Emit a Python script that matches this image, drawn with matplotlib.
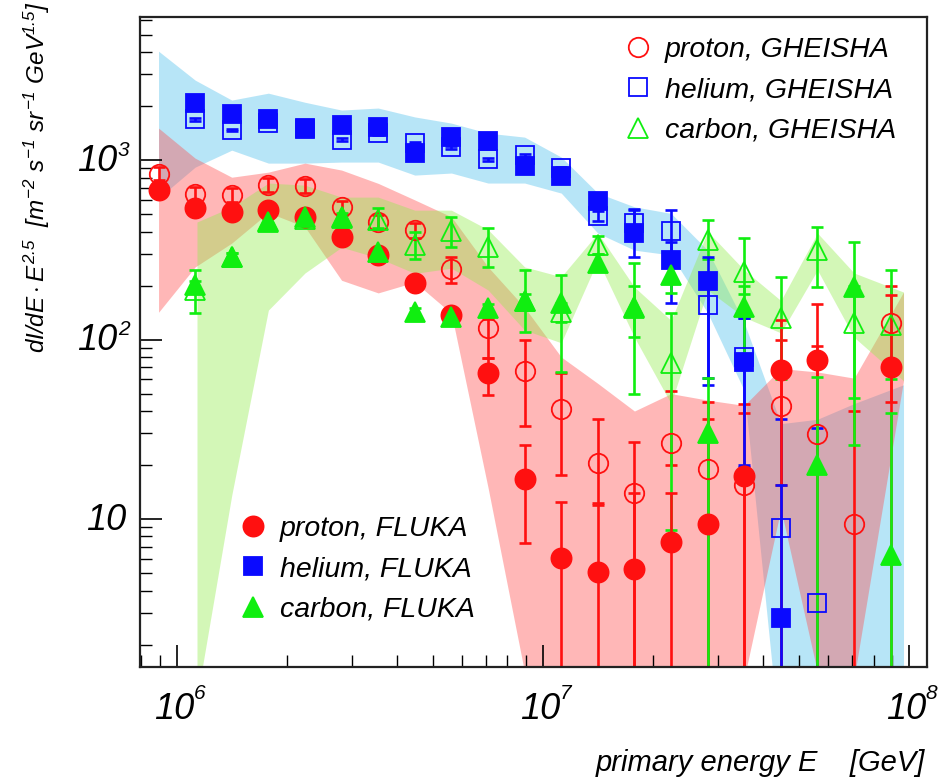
import numpy as np
import matplotlib
matplotlib.use("Agg")
import matplotlib.pyplot as plt
from matplotlib.lines import Line2D
from matplotlib.ticker import NullFormatter

plt.rcParams['font.family'] = ['Liberation Sans', 'DejaVu Sans']
plt.rcParams['font.style'] = 'italic'
plt.rcParams['mathtext.fontset'] = 'custom'
plt.rcParams['mathtext.rm'] = 'Liberation Sans:italic'
plt.rcParams['mathtext.it'] = 'Liberation Sans:italic'
plt.rcParams['mathtext.sf'] = 'Liberation Sans:italic'

# ---- data: log10(E/GeV) bin centres ----
log_e = [5.95, 6.05, 6.15, 6.25, 6.35, 6.45, 6.55, 6.65, 6.75, 6.85, 6.95,
         7.05, 7.15, 7.25, 7.35, 7.45, 7.55, 7.65, 7.75, 7.85, 7.95]
nan = np.nan

# proton, GHEISHA (open circles)
p_gh = [836, 648, 638, 725, 716, 545, 452, 407, 247, 116, 67, 41, 20.5, 14, 26.5, 19, 15.5, 42.7, 29.7, 9.4, 123]
p_gh_lo = [770, 595, 585, 665, 657, 500, 415, 370, 206, 79, 33, 17.6, 12, 1.5, 20, 1.5, 1.5, 15.5, 1.5, 1.5, 1.5]
p_gh_hi = [910, 705, 695, 790, 780, 594, 493, 445, 288, 131, 99, 65, 36, 27, 52, 45, 44, 100, 92, 40, 199]
# proton, FLUKA (filled circles)
p_fl = [681, 540, 513, 525, 480, 372, 296, 207, 137, 65, 16.7, 6.1, 5.1, 5.25, 7.5, 9.4, 17.4, 68, 77, nan, 70]
p_fl_lo = [650, 515, 490, 500, 458, 355, 282, 197, 130, 49, 7.4, 1.5, 1.5, 1.5, 1.5, 1.5, 1.5, 1.5, 1.5, nan, 45]
p_fl_hi = [712, 565, 536, 550, 502, 389, 310, 217, 144, 79, 25.8, 12.4, 12.3, 14, 14, 36, 39, 129, 158, nan, 177]

# helium, GHEISHA (open squares)
he_gh = [nan, 1690, 1470, 1600, 1500, 1300, 1410, 1245, 1180, 1010, 1066, 900, 488, 447, 403, 155, 80, 8.9, 3.4, nan, nan]
he_gh_lo = [nan, 1660, 1445, 1570, 1475, 1280, 1385, 1225, 1160, 990, 1045, 880, 460, 410, 300, 56, 20, 1.5, 1.5, nan, nan]
he_gh_hi = [nan, 1720, 1495, 1630, 1525, 1320, 1435, 1265, 1200, 1030, 1085, 920, 520, 533, 526, 212, 132, 36, 32, nan, nan]
# helium, FLUKA (filled squares)
he_fl = [nan, 2080, 1800, 1690, 1510, 1570, 1530, 1095, 1345, 1275, 925, 815, 590, 391, 277, 212, 75, 2.8, nan, nan, nan]
he_fl_lo = [nan, 2040, 1765, 1655, 1480, 1540, 1500, 1075, 1320, 1250, 905, 800, 560, 290, 160, 61, 19.6, 1.5, nan, nan, nan]
he_fl_hi = [nan, 2120, 1835, 1725, 1540, 1600, 1560, 1115, 1370, 1300, 945, 830, 620, 526, 350, 288, 132, 15.5, nan, nan, nan]

# carbon, GHEISHA (open triangles)
c_gh = [nan, 189, 290, 455, 470, 480, 462, 335, 405, 328, 165, 142, 336, 150, 74, 359, 238, 132, 316, 124, 120]
c_gh_lo = [nan, 141, 275, 430, 445, 455, 418, 281, 328, 254, 150, 125, 300, 50, 8.7, 280, 180, 60, 196, 26, 60]
c_gh_hi = [nan, 245, 305, 480, 495, 505, 540, 397, 482, 418, 180, 160, 380, 200, 141, 463, 367, 224, 424, 200, 244]
# carbon, FLUKA (filled triangles)
c_fl = [nan, 201, 288, 452, 480, 473, 307, 142, 133, 150, 165, 160, 267, 152, 229, 30, 152, nan, 20, 196, 6.3]
c_fl_lo = [nan, 190, 272, 430, 455, 450, 292, 135, 126, 142, 110, 66, 245, 103, 182, 1.5, 80, nan, 1.5, 47, 1.5]
c_fl_hi = [nan, 212, 304, 475, 505, 497, 322, 150, 140, 158, 244, 229, 300, 267, 296, 61, 200, nan, 62, 349, 39]

# systematic bands (log10 E of band vertices)
band_e = [5.95, 6.05, 6.15, 6.25, 6.35, 6.45, 6.55, 6.65, 6.75, 6.85, 6.95,
          7.05, 7.15, 7.25, 7.35, 7.45, 7.55, 7.65, 7.75, 7.85, 7.985]
he_band_hi = [4045, 2790, 2160, 2360, 2100, 1900, 1950, 1740, 1607, 1413, 1343, 1040, 655, 549, 505, 315, 124, 34, 36, 44, 56]
he_band_lo = [614, 914, 1136, 962, 962, 975, 975, 825, 847, 745, 745, 655, 392, 315, 296, 141, 52, 0.5, 0.5, 0.5, 0.5]
p_band_hi = [1508, 1025, 803, 857, 962, 880, 742, 600, 483, 254, 151, 80, 57, 40, 50, 46, 43, 69, 66, 61, 184]
p_band_lo = [142, 254, 345, 510, 424, 214, 182, 209, 140, 15, 1.4, 0.5, 0.5, 0.5, 0.5, 0.5, 1.3, 11.4, 1.4, 1.3, 59]
c_band_e = [6.055, 6.15, 6.25, 6.35, 6.45, 6.55, 6.65, 6.75, 6.85, 6.95,
            7.05, 7.15, 7.25, 7.35, 7.45, 7.55, 7.65, 7.75, 7.85, 7.985]
c_band_hi = [452, 548, 745, 725, 622, 622, 526, 526, 410, 254, 224, 392, 196, 128, 400, 244, 165, 392, 235, 184]
c_band_lo = [1.0, 13.6, 146, 235, 327, 285, 234, 250, 189, 113, 96, 277, 103, 44, 189, 133, 109, 244, 103, 59]

x_tick_exp = [6, 7, 8]
y_tick_exp = [1, 2, 3]

RED = '#ff1010'
BLUE = '#0a0aff'
GREEN = '#10ee10'

E = 10.0 ** np.array(log_e)

fig = plt.figure(figsize=(9.42, 7.8), dpi=100)
ax = fig.add_axes([0.1486, 0.1449, 0.8355, 0.8333])
ax.set_xscale('log')
ax.set_yscale('log')
ax.set_xlim(7.93e5, 1.12e8)
ax.set_ylim(1.5, 6270)

# bands: helium, proton, carbon
ax.fill_between(10.0 ** np.array(band_e), he_band_lo, he_band_hi,
                color=(0.30, 0.75, 0.925), alpha=0.4, lw=0, zorder=1)
ax.fill_between(10.0 ** np.array(band_e), p_band_lo, p_band_hi,
                color=(1.0, 0.30, 0.30), alpha=0.4, lw=0, zorder=1)
ax.fill_between(10.0 ** np.array(c_band_e), c_band_lo, c_band_hi,
                color=(0.575, 0.925, 0.30), alpha=0.4, lw=0, zorder=1)


def bars(y, lo, hi, col):
    y = np.array(y, float)
    err = np.array([y - np.array(lo, float), np.array(hi, float) - y])
    ax.errorbar(E, y, yerr=err, fmt='none', ecolor=col, elinewidth=1.9,
                capsize=4.5, capthick=1.9, zorder=2)


bars(p_gh, p_gh_lo, p_gh_hi, RED)
bars(he_gh, he_gh_lo, he_gh_hi, BLUE)
bars(c_gh, c_gh_lo, c_gh_hi, GREEN)
bars(p_fl, p_fl_lo, p_fl_hi, RED)
bars(he_fl, he_fl_lo, he_fl_hi, BLUE)
bars(c_fl, c_fl_lo, c_fl_hi, GREEN)

styles = [
    (p_gh, 'o', 14, RED, 'none', 'proton, GHEISHA'),
    (he_gh, 's', 13, BLUE, 'none', 'helium, GHEISHA'),
    (c_gh, '^', 15, GREEN, 'none', 'carbon, GHEISHA'),
    (p_fl, 'o', 14.5, RED, RED, 'proton, FLUKA'),
    (he_fl, 's', 13.5, BLUE, BLUE, 'helium, FLUKA'),
    (c_fl, '^', 15, GREEN, GREEN, 'carbon, FLUKA'),
]
handles = []
for i, (y, m, ms, col, fc, lab) in enumerate(styles):
    ax.plot(E, y, ls='none', marker=m, ms=ms, mec=col, mfc=fc, mew=1.3,
            zorder=3 + i)
    handles.append(Line2D([], [], ls='none', marker=m, ms=ms, mec=col,
                          mfc=fc, mew=1.3, label=lab))

leg_kw = dict(frameon=False, borderpad=0, borderaxespad=0, handlelength=1.0,
              handletextpad=0.45, labelspacing=0.5, fontsize=20.5,
              loc='upper left')
leg1 = ax.legend(handles=handles[:3], bbox_to_anchor=(0.6147, 0.969), **leg_kw)
ax.add_artist(leg1)
ax.legend(handles=handles[3:], bbox_to_anchor=(0.1255, 0.232), **leg_kw)

# ticks
ax.tick_params(which='both', direction='in', top=False, right=False)
ax.tick_params(which='major', length=16, width=1.2)
ax.tick_params(which='minor', length=8.5, width=1.0)
ax.xaxis.set_major_formatter(NullFormatter())
ax.xaxis.set_minor_formatter(NullFormatter())
ax.yaxis.set_major_formatter(NullFormatter())
ax.yaxis.set_minor_formatter(NullFormatter())
for s in ax.spines.values():
    s.set_linewidth(1.6)
    s.set_color('#222222')

for k in x_tick_exp:
    ax.annotate('10', xy=(10.0 ** k, 0), xycoords=('data', 'axes fraction'),
                xytext=(-2, -18), textcoords='offset points',
                ha='center', va='top', fontsize=26)
    ax.annotate(str(k), xy=(10.0 ** k, 0), xycoords=('data', 'axes fraction'),
                xytext=(12, -12), textcoords='offset points',
                ha='left', va='top', fontsize=15)
for k in y_tick_exp:
    if k == 1:
        ax.annotate('10', xy=(0, 10.0 ** k), xycoords=('axes fraction', 'data'),
                    xytext=(-10, -1), textcoords='offset points',
                    ha='right', va='center', fontsize=26)
    else:
        ax.annotate('10', xy=(0, 10.0 ** k), xycoords=('axes fraction', 'data'),
                    xytext=(-16.5, -1), textcoords='offset points',
                    ha='right', va='center', fontsize=26)
        ax.annotate(str(k), xy=(0, 10.0 ** k), xycoords=('axes fraction', 'data'),
                    xytext=(-16, 7), textcoords='offset points',
                    ha='left', va='center', fontsize=15)

ax.set_xlabel('primary energy E    [GeV]', fontsize=21)
ax.xaxis.label.set_ha('right')
ax.xaxis.label.set_va('center')
ax.xaxis.set_label_coords(0.997, -0.148)
ax.set_ylabel(r'$dI/dE \cdot E^{2.5}$  [$m^{-2}$ $s^{-1}$ $sr^{-1}$ GeV$^{1.5}$]',
              fontsize=17.5)
ax.yaxis.label.set_va('center')
ax.yaxis.set_label_coords(-0.131, 0.754)

fig.savefig('out.png', dpi=100)
